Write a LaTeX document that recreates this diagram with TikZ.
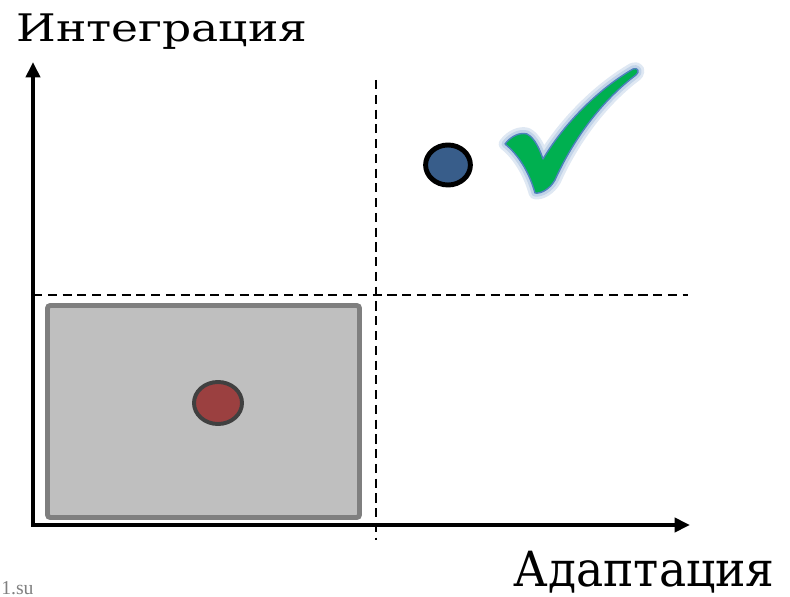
\documentclass[tikz,border=0pt]{standalone}
\usepackage{fontspec}
\setmainfont{DejaVu Serif}
\newfontfamily\ylabelfont[FakeStretch=1.2]{DejaVu Serif}
\newfontfamily\xlabelfont[FakeStretch=0.94]{DejaVu Serif}
\newfontfamily\srcfont{Liberation Serif}
\definecolor{boxgray}{RGB}{191,191,191}
\definecolor{boxedge}{RGB}{127,127,127}
\definecolor{lowred}{RGB}{155,64,64}
\definecolor{highblue}{RGB}{56,93,138}
\definecolor{tickgreen}{RGB}{0,176,80}
\definecolor{tickedge}{RGB}{79,129,189}
\usetikzlibrary{shapes.geometric, arrows.meta}
\begin{document}
\begin{tikzpicture}[x=0.025cm, y=-0.025cm]
  \useasboundingbox (0,0) rectangle (790,597);

  % Axes
  \coordinate (ytop) at (33,62);
  \coordinate (xend) at (690,525);
  \draw[line width=2.8pt, line join=miter, {Triangle[length=11pt,width=10pt]}-{Triangle[length=11pt,width=10pt]}] (ytop) |- (xend);
  \node[anchor=base west, inner sep=0, font=\ylabelfont\fontsize{27}{30}\selectfont] (ylabel) at (16,42) {Интеграция};
  \node[anchor=base east, inner sep=0, font=\xlabelfont\fontsize{34.5}{38}\selectfont] (xlabel) at (775,586) {Адаптация};

  % Dividers
  \coordinate (vtop) at (376,80);
  \coordinate (vbot) at (376,540);
  \coordinate (hleft) at (33,295);
  \coordinate (hright) at (688,295);
  \draw[line width=1.4pt, dash pattern=on 6.5pt off 4pt] (vtop) -- (vbot);
  \draw[line width=1.4pt, dash pattern=on 6.5pt off 4pt] (hleft) -- (hright);

  % Low quadrant
  \draw[boxedge, fill=boxgray, line width=3.5pt, rounded corners=2pt] (47.5,305.5) rectangle (359.5,517.5);
  \node[draw=black!75, fill=lowred, ellipse, line width=2.8pt, minimum width=1.2cm, minimum height=1.05cm, inner sep=0] (low) at (218,403) {};

  % High quadrant
  \node[draw=black, fill=highblue, ellipse, line width=3.5pt, minimum width=1.12cm, minimum height=1cm, inner sep=0] (high) at (448,165) {};

  % Check mark
  \def\tickpath{(505,144) .. controls (511,136) and (520,132) .. (527,134)
    .. controls (535,138) and (540,150) .. (543,159)
    .. controls (565,122) and (600,88) .. (633,69)
    .. controls (638,67) and (640,72) .. (636,75)
    .. controls (600,102) and (572,142) .. (555,180)
    .. controls (550,189) and (541,194) .. (535,193)
    .. controls (530,175) and (520,156) .. cycle}
  \draw[tickedge!18, line width=9pt, line join=round] \tickpath;
  \draw[tickedge!35, line width=5pt, line join=round] \tickpath;
  \draw[tickedge, fill=tickgreen, line width=1pt, line join=round] \tickpath;

  % Source
  \node[anchor=base west, text=gray, font=\srcfont\fontsize{14}{16}\selectfont, inner sep=0] (src) at (1,594) {1.su};
\end{tikzpicture}
\end{document}
